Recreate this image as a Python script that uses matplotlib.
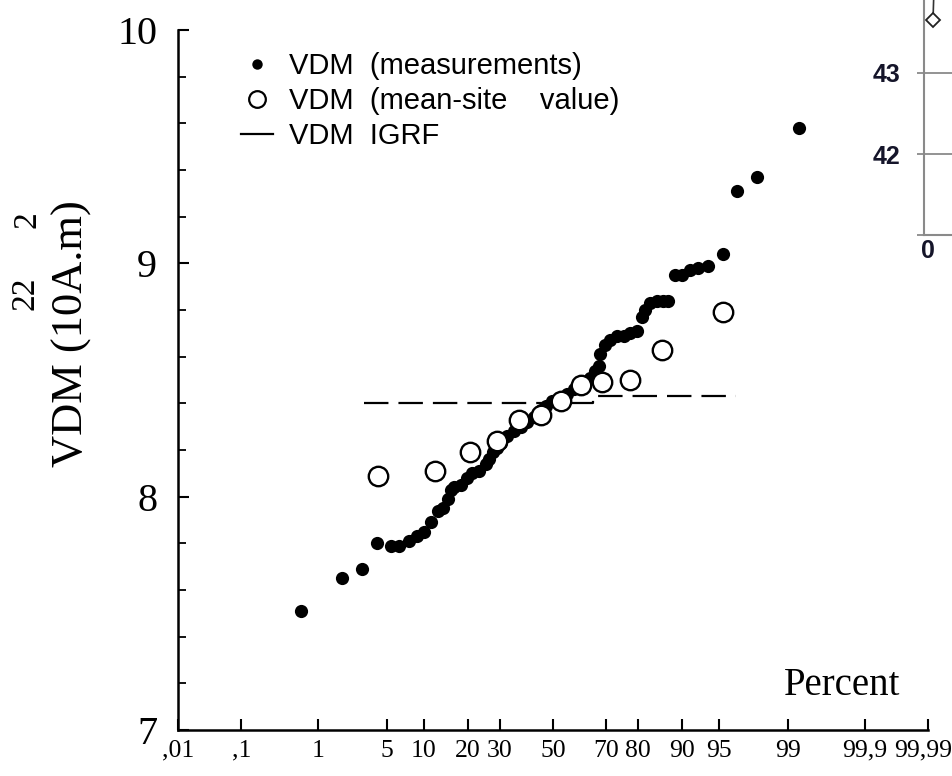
import numpy as np
import matplotlib
matplotlib.use("Agg")
import matplotlib.pyplot as plt
import matplotlib.transforms as mtransforms
from matplotlib.lines import Line2D
from statistics import NormalDist

# ---------------- data ----------------
# VDM measurements: cumulative percent, VDM (10^22 A.m^2)
meas_pct = [0.62, 1.83, 2.94, 4.08, 5.40, 6.37, 7.62, 8.86, 10.08, 11.30,
            12.61, 13.67, 14.78, 15.55, 16.33, 18.03, 19.82, 21.23, 23.17, 25.24,
            26.27, 27.5, 28.8, 30.19, 32.52, 34.91, 37.40, 39.94, 42.47, 45.07, 47.05, 49.68,
            52.96, 55.57, 58.15, 60.0, 61.98, 64.47, 66.29, 67.47, 68.07, 69.82, 71.52,
            73.72, 75.81, 77.82, 79.73, 81.11, 81.97, 83.24, 84.85, 86.33, 87.39,
            88.71, 89.93, 91.30, 92.52, 93.82, 95.37, 96.59, 97.84, 99.26]
meas_val = [7.51, 7.65, 7.69, 7.80, 7.79, 7.79, 7.81, 7.83, 7.85, 7.89,
            7.94, 7.95, 7.99, 8.03, 8.04, 8.05, 8.08, 8.10, 8.11, 8.14,
            8.16, 8.19, 8.21, 8.23, 8.26, 8.28, 8.30, 8.32, 8.34, 8.37, 8.39, 8.41,
            8.42, 8.44, 8.46, 8.48, 8.49, 8.51, 8.54, 8.56, 8.61, 8.65, 8.67,
            8.69, 8.69, 8.70, 8.71, 8.77, 8.80, 8.83, 8.84, 8.84, 8.84,
            8.95, 8.95, 8.97, 8.98, 8.99, 9.04, 9.31, 9.37, 9.58]

# VDM mean-site values
site_pct = [4.1, 12.1, 20.5, 28.8, 36.8, 45.3, 53.2, 60.9, 68.8, 77.6, 86.0, 95.4]
site_val = [8.09, 8.11, 8.19, 8.24, 8.33, 8.35, 8.41, 8.48, 8.49, 8.50, 8.63, 8.79]

# VDM IGRF
igrf_pct = [3.05, 65.5, 65.5, 96.5]
igrf_val = [8.40, 8.40, 8.43, 8.43]

# probability axis ticks
xtick_pct = [0.01, 0.1, 1, 5, 10, 20, 30, 50, 70, 80, 90, 95, 99, 99.9, 99.99]
xtick_lbl = [',01', ',1', '1', '5', '10', '20', '30', '50', '70', '80', '90', '95',
             '99', '99,9', '99,99']
ytick_major = [7, 8, 9, 10]

legend_labels = ['VDM  (measurements)', 'VDM  (mean-site    value)', 'VDM  IGRF']

# fragment of neighbouring figure at right edge
frag_x = [0.53, 0.7]
frag_y = [43.65, 44.3]
frag_ticks = [41, 42, 43]
frag_tlbl = ['', '42', '43']

# ---------------- helpers ----------------
nd = NormalDist()
def pz(p):
    return np.array([nd.inv_cdf(v / 100.0) for v in p])

W, H = 953, 776
fig = plt.figure(figsize=(W / 100, H / 100), dpi=100)
ax = fig.add_axes([178 / W, 1 - 730 / H, 750 / W, 700 / H])

serif = 'Liberation Serif'
sans = 'Liberation Sans'

# data
ax.plot(pz(igrf_pct), igrf_val, color='black', lw=1.6, dashes=(11, 4.5), zorder=2)
ax.plot(pz(meas_pct), meas_val, 'o', color='black', ms=9.5, mew=0, zorder=3)
ax.plot(pz(site_pct), site_val, 'o', mfc='white', mec='black', ms=14, mew=1.7, zorder=4)

ax.set_xlim(pz([0.01])[0], pz([99.99])[0])
ax.set_ylim(7, 10)

ax.set_xticks(pz(xtick_pct))
ax.set_xticklabels(xtick_lbl, fontfamily=serif, fontsize=18.5)
ax.set_yticks(ytick_major)
ax.set_yticklabels([str(v) for v in ytick_major], fontfamily=serif, fontsize=29)
ax.set_yticks(np.arange(7, 10.01, 0.2), minor=True)

ax.tick_params(axis='x', direction='in', length=8, width=1.5, pad=7)
ax.tick_params(axis='y', which='major', direction='in', length=8, width=1.5, pad=15)
ax.tick_params(axis='y', which='minor', direction='in', length=6, width=1.3)

# nudge the last x label so it stays inside the picture
last = ax.get_xticklabels()[-1]
last.set_transform(last.get_transform() +
                   mtransforms.ScaledTranslation(-5 / 100, 0, fig.dpi_scale_trans))

for s in ['top', 'right']:
    ax.spines[s].set_visible(False)
for s in ['left', 'bottom']:
    ax.spines[s].set_linewidth(1.8)

# labels
fig.text(72 / W, 1 - 334 / H, 'VDM (10A.m)', rotation=90, ha='center', va='center',
         fontfamily=serif, fontsize=32)
fig.text(25 / W, 1 - 293 / H, '22', rotation=90, ha='center', va='center',
         fontfamily=serif, fontsize=24)
fig.text(27 / W, 1 - 220 / H, '2', rotation=90, ha='center', va='center',
         fontfamily=serif, fontsize=24)
ax.text(0.885, 0.063, 'Percent', transform=ax.transAxes, ha='center', va='center',
        fontfamily=serif, fontsize=28)

# legend
handles = [Line2D([], [], ls='none', marker='o', color='black', ms=7.5, mew=0),
           Line2D([], [], ls='none', marker='o', mfc='white', mec='black', ms=12, mew=1.6),
           Line2D([], [], color='black', lw=1.6)]
leg = ax.legend(handles, legend_labels, loc='upper left', bbox_to_anchor=(0.084, 0.968),
                frameon=False, prop={'family': sans, 'size': 21}, handlelength=1.1,
                handletextpad=0.55, labelspacing=0.24, borderpad=0, borderaxespad=0)

# fragment axes on right edge
ax2 = fig.add_axes([924 / W, 1 - 235 / H, 29 / W, 235 / H])
ax2.set_xlim(-0.4, 2.6)
ax2.set_ylim(41, 43 + 73 / 81)
ax2.plot(frag_x, frag_y, color='#333333', lw=1.2, marker='D', mfc='white', mec='#222222',
         ms=7, mew=1.3, markevery=[0], clip_on=True)
ax2.set_yticks(frag_ticks)
ax2.set_yticklabels(frag_tlbl, fontfamily=sans, fontweight='bold', fontsize=18, color='#15152a')
ax2.set_xticks([0])
ax2.set_xticklabels(['0'], fontfamily=sans, fontweight='bold', fontsize=18, color='#15152a')
ax2.tick_params(axis='y', direction='out', length=5, width=1.3, color='#8a8a8a', pad=12)
ax2.tick_params(axis='x', length=0, pad=3)
ax2.yaxis.grid(True, color='#8a8a8a', lw=1.3)
for s in ['top', 'right']:
    ax2.spines[s].set_visible(False)
for s in ['left', 'bottom']:
    ax2.spines[s].set_color('#8a8a8a')
    ax2.spines[s].set_linewidth(1.5)
ax2.set_facecolor('none')

fig.savefig('out.png', dpi=100)
